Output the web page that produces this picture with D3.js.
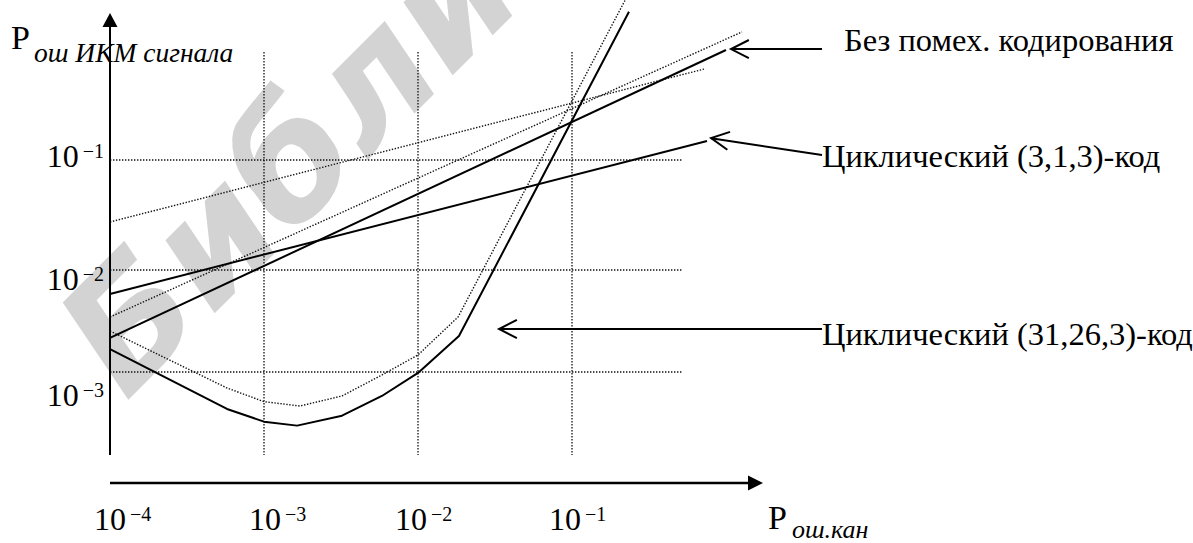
<!DOCTYPE html>
<html>
<head>
<meta charset="utf-8">
<script src="https://cdn.jsdelivr.net/npm/d3@7"></script>
<style>
  body { margin: 0; background: #fff; }
  svg { display: block; }
  text { font-family: "Liberation Serif", "Times New Roman", serif; fill: #000; }
</style>
</head>
<body>
<div id="chart"></div>
<script>
// channel error probability ticks and output (PCM) probability ticks
var xTicks = [1e-4, 1e-3, 1e-2, 1e-1];
var yTicks = [1e-3, 1e-2, 1e-1];

// no error-correcting code
var plainX = [1e-4, 1.0];
var plainY = [2.16e-3, 1.0];
var plainEstX = [1e-4, 1.27];
var plainEstY = [3.46e-3, 1.46];

// cyclic (3,1,3) code
var c313X = [1e-4, 0.753];
var c313Y = [5.82e-3, 0.149];
var c313EstX = [1e-4, 0.72];
var c313EstY = [0.0273, 0.671];

// cyclic (31,26,3) code
var c31X = [1e-4, 5.75e-4, 1e-3, 1.64e-3, 3.21e-3, 5.83e-3, 1e-2, 0.01845, 0.2344];
var c31Y = [1.68e-3, 4.34e-4, 3.26e-4, 2.98e-4, 3.73e-4, 5.82e-4, 9.8e-4, 2.25e-3, 2.23];
var c31EstX = [1e-4, 5.75e-4, 1e-3, 1.71e-3, 3.21e-3, 5.83e-3, 1e-2, 0.0182, 0.2455];
var c31EstY = [2.52e-3, 6.97e-4, 5.12e-4, 4.64e-4, 5.82e-4, 9.35e-4, 1.47e-3, 3.46e-3, 3.74];

// callouts
var noteText = ["Без помех. кодирования", "Циклический (3,1,3)-код", "Циклический (31,26,3)-код"];
var noteTipX = [1.078, 0.80, 0.0336];
var noteTipY = [1.02, 0.158, 2.64e-3];
var noteTailX = [4.2, 4.2, 4.2];
var noteTailY = [1.02, 0.111, 2.64e-3];

var width = 1193, height = 543;

var svg = d3.select("#chart")
    .append("svg")
    .attr("width", width)
    .attr("height", height);

// scales (the hand drawn figure has uneven decades on y)
var x = d3.scaleLog().domain([1e-4, 1e-1]).range([110, 572]);
var y = d3.scaleLog().domain([1e-3, 1e-2, 1e-1]).range([372, 270, 160]);
var xLab = d3.scaleLog().domain([1e-4, 1e-3, 1e-2, 1e-1]).range([94, 249, 395, 549]);
var yLab = d3.scaleLog().domain([1e-3, 1e-2, 1e-1]).range([406, 290, 167]);

var frame = {top: 52, bottom: 455, left: 110, right: 683};

// watermark
svg.append("text")
    .attr("transform", "translate(126,402) rotate(-45)")
    .style("font-family", "DejaVu Sans")
    .style("font-weight", "bold")
    .style("font-style", "italic")
    .style("font-size", "158px")
    .style("fill", "#d3d3d3")
    .text("Библиотека");

// grid
var grid = svg.append("g")
    .attr("stroke", "#111")
    .attr("stroke-width", 1.3)
    .attr("stroke-dasharray", "1.4,1.6");

grid.selectAll(".vg")
    .data(xTicks.slice(1))
    .enter()
    .append("line")
    .attr("x1", d => x(d)).attr("x2", d => x(d))
    .attr("y1", frame.top).attr("y2", frame.bottom);

grid.selectAll(".hg")
    .data(yTicks)
    .enter()
    .append("line")
    .attr("x1", frame.left).attr("x2", frame.right)
    .attr("y1", d => y(d)).attr("y2", d => y(d));

// curves
var line = d3.line().x(d => x(d[0])).y(d => y(d[1]));

var curves = [
    {xs: plainEstX, ys: plainEstY, dotted: true},
    {xs: c313EstX, ys: c313EstY, dotted: true},
    {xs: c31EstX, ys: c31EstY, dotted: true},
    {xs: plainX, ys: plainY, dotted: false},
    {xs: c313X, ys: c313Y, dotted: false},
    {xs: c31X, ys: c31Y, dotted: false}
];

svg.append("g")
    .selectAll("path")
    .data(curves)
    .enter()
    .append("path")
    .attr("fill", "none")
    .attr("stroke", d => d.dotted ? "#111" : "#000")
    .attr("stroke-width", d => d.dotted ? 1.4 : 2)
    .attr("stroke-dasharray", d => d.dotted ? "1.4,1.6" : null)
    .attr("stroke-linejoin", "round")
    .attr("d", d => line(d.xs.map((v, i) => [v, d.ys[i]])));

// axes with arrows
svg.append("line")
    .attr("x1", frame.left).attr("x2", frame.left)
    .attr("y1", frame.bottom).attr("y2", 24)
    .attr("stroke", "#000").attr("stroke-width", 2);
svg.append("path")
    .attr("d", "M" + frame.left + ",13 L" + (frame.left - 7.5) + ",27 L" + (frame.left + 7.5) + ",27 Z")
    .attr("fill", "#000");

svg.append("line")
    .attr("x1", frame.left).attr("x2", 750)
    .attr("y1", 483).attr("y2", 483)
    .attr("stroke", "#000").attr("stroke-width", 2.6);
svg.append("path")
    .attr("d", "M763,483 L748,475.5 L748,490.5 Z")
    .attr("fill", "#000");

// tick labels
function power(sel, v) {
    sel.append("tspan").text("10");
    sel.append("tspan")
        .attr("dx", 4)
        .attr("dy", -9)
        .style("font-size", "20px")
        .text("\u2212" + Math.abs(Math.round(Math.log10(v))));
}

svg.selectAll(".xl")
    .data(xTicks)
    .enter()
    .append("text")
    .attr("x", d => xLab(d))
    .attr("y", 530)
    .style("font-size", "32px")
    .each(function(d) { power(d3.select(this), d); });

svg.selectAll(".yl")
    .data(yTicks)
    .enter()
    .append("text")
    .attr("x", 104)
    .attr("y", d => yLab(d))
    .attr("text-anchor", "end")
    .style("font-size", "32px")
    .each(function(d) { power(d3.select(this), d); });

// axis titles
var yt = svg.append("text").attr("x", 11).attr("y", 49).style("font-size", "34px");
yt.append("tspan").text("P");
yt.append("tspan")
    .attr("dx", 4).attr("dy", 13)
    .style("font-size", "27.5px").style("font-style", "italic")
    .text("ош ИКМ сигнала");

var xt = svg.append("text").attr("x", 768).attr("y", 529).style("font-size", "34px");
xt.append("tspan").text("P");
xt.append("tspan")
    .attr("dx", 5).attr("dy", 9)
    .style("font-size", "26px").style("font-style", "italic")
    .text("ош.кан");

// callouts
var noteDx = [22, 0, 0];
var noteDy = [2, 12, 16];
var notes = svg.append("g").selectAll("g")
    .data(noteText)
    .enter()
    .append("g");

notes.append("line")
    .attr("x1", (d, i) => x(noteTailX[i]))
    .attr("y1", (d, i) => y(noteTailY[i]))
    .attr("x2", (d, i) => x(noteTipX[i]))
    .attr("y2", (d, i) => y(noteTipY[i]))
    .attr("stroke", "#000").attr("stroke-width", 2);

notes.append("path")
    .attr("fill", "none")
    .attr("stroke", "#000").attr("stroke-width", 2)
    .attr("d", function(d, i) {
        var tx = x(noteTipX[i]), ty = y(noteTipY[i]);
        var a = Math.atan2(y(noteTailY[i]) - ty, x(noteTailX[i]) - tx);
        var L = 20, s = 0.47;
        return "M" + (tx + L * Math.cos(a + s)) + "," + (ty + L * Math.sin(a + s)) +
            " L" + tx + "," + ty +
            " L" + (tx + L * Math.cos(a - s)) + "," + (ty + L * Math.sin(a - s));
    });

notes.append("text")
    .attr("x", (d, i) => x(noteTailX[i]) + noteDx[i])
    .attr("y", (d, i) => y(noteTailY[i]) + noteDy[i])
    .style("font-size", "32.5px")
    .text(d => d);
</script>
</body>
</html>
